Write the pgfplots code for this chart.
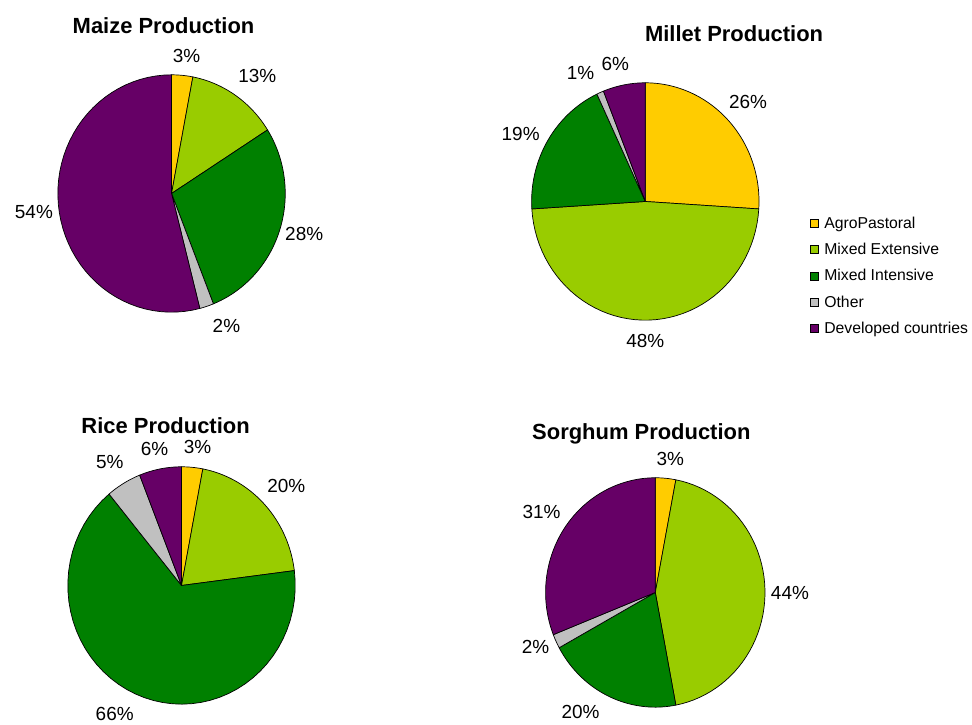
\documentclass[border=0pt]{standalone}
\usepackage{pgfplots}
\pgfplotsset{compat=1.18}
\usepackage{fontspec}
\setmainfont{Liberation Sans}
\definecolor{agro}{HTML}{FFCC00}
\definecolor{mext}{HTML}{99CC00}
\definecolor{mint}{HTML}{008000}
\definecolor{oth}{HTML}{C0C0C0}
\definecolor{dev}{HTML}{660066}
% slice: cx, cy, rx, ry, start%, end%, colour
\newcommand{\slice}[7]{%
  \addplot[forget plot, fill=#7, draw=black, line width=0.7pt, line join=round,
    domain=3.6*#5:3.6*#6, samples=50, variable=\t]
    ({#1+#3*sin(t)},{#2-#4*cos(t)}) -- (axis cs:#1,#2) -- cycle;}
\newcommand{\lab}[3]{\node[font=\fontsize{19}{21}\selectfont] at (axis cs:#1,#2) {#3\%};}
\newcommand{\ttl}[3]{\node[font=\fontsize{22}{25}\selectfont\bfseries, anchor=base, inner sep=0pt] at (axis cs:#1,#2) {#3};}
\begin{document}
\begin{tikzpicture}
\begin{axis}[
  width=972pt, height=725pt, scale only axis,
  xmin=0, xmax=972, ymin=0, ymax=725, y dir=reverse,
  hide axis, clip=false,
  legend style={at={(axis cs:810,213)}, anchor=north west, draw=none, fill=none,
    font=\fontsize{15.8}{17}\selectfont, row sep=9.5pt, inner sep=2pt,
    legend cell align=left},
  legend image code/.code={\draw[#1, line width=0.6pt] (0pt,-4pt) rectangle (8pt,4pt);
    \path[draw=none, fill=none] (0pt,0pt) -- (12pt,0pt);},
]
\path (axis cs:0,0) rectangle (axis cs:972,725);
% Maize: 3, 13, 28, 2, 54
\slice{172}{194}{114}{119}{0}{3}{agro}
\slice{172}{194}{114}{119}{3}{16}{mext}
\slice{172}{194}{114}{119}{16}{44}{mint}
\slice{172}{194}{114}{119}{44}{46}{oth}
\slice{172}{194}{114}{119}{46}{100}{dev}
% Millet: 26, 48, 19, 1, 6
\slice{647}{202}{114}{119}{0}{26}{agro}
\slice{647}{202}{114}{119}{26}{74}{mext}
\slice{647}{202}{114}{119}{74}{93}{mint}
\slice{647}{202}{114}{119}{93}{94}{oth}
\slice{647}{202}{114}{119}{94}{100}{dev}
% Rice: 3, 20, 66, 5, 6
\slice{182}{587}{114}{119}{0}{3}{agro}
\slice{182}{587}{114}{119}{3}{23}{mext}
\slice{182}{587}{114}{119}{23}{89}{mint}
\slice{182}{587}{114}{119}{89}{94}{oth}
\slice{182}{587}{114}{119}{94}{100}{dev}
% Sorghum: 3, 44, 20, 2, 31
\slice{657}{594}{110}{115}{0}{3}{agro}
\slice{657}{594}{110}{115}{3}{47}{mext}
\slice{657}{594}{110}{115}{47}{67}{mint}
\slice{657}{594}{110}{115}{67}{69}{oth}
\slice{657}{594}{110}{115}{69}{100}{dev}
% titles
\ttl{164}{34}{Maize Production}
\ttl{736}{41.5}{Millet Production}
\ttl{166}{435}{Rice Production}
\ttl{643}{440.5}{Sorghum Production}
% labels
\lab{187}{56}{3}\lab{258}{76}{13}\lab{305}{235}{28}\lab{227}{327}{2}\lab{34}{213}{54}
\lab{750}{102}{26}\lab{647}{342}{48}\lab{522}{134}{19}\lab{582}{73}{1}\lab{617}{64}{6}
\lab{198}{448}{3}\lab{155}{450}{6}\lab{110}{463}{5}\lab{287}{487}{20}\lab{115}{716}{66}
\lab{672}{460}{3}\lab{792}{595}{44}\lab{582}{714}{20}\lab{537}{649}{2}\lab{543}{513}{31}
% legend
\addlegendimage{fill=agro, draw=black}\addlegendentry{AgroPastoral}
\addlegendimage{fill=mext, draw=black}\addlegendentry{Mixed Extensive}
\addlegendimage{fill=mint, draw=black}\addlegendentry{Mixed Intensive}
\addlegendimage{fill=oth, draw=black}\addlegendentry{Other}
\addlegendimage{fill=dev, draw=black}\addlegendentry{Developed countries}
\end{axis}
\end{tikzpicture}
\end{document}
